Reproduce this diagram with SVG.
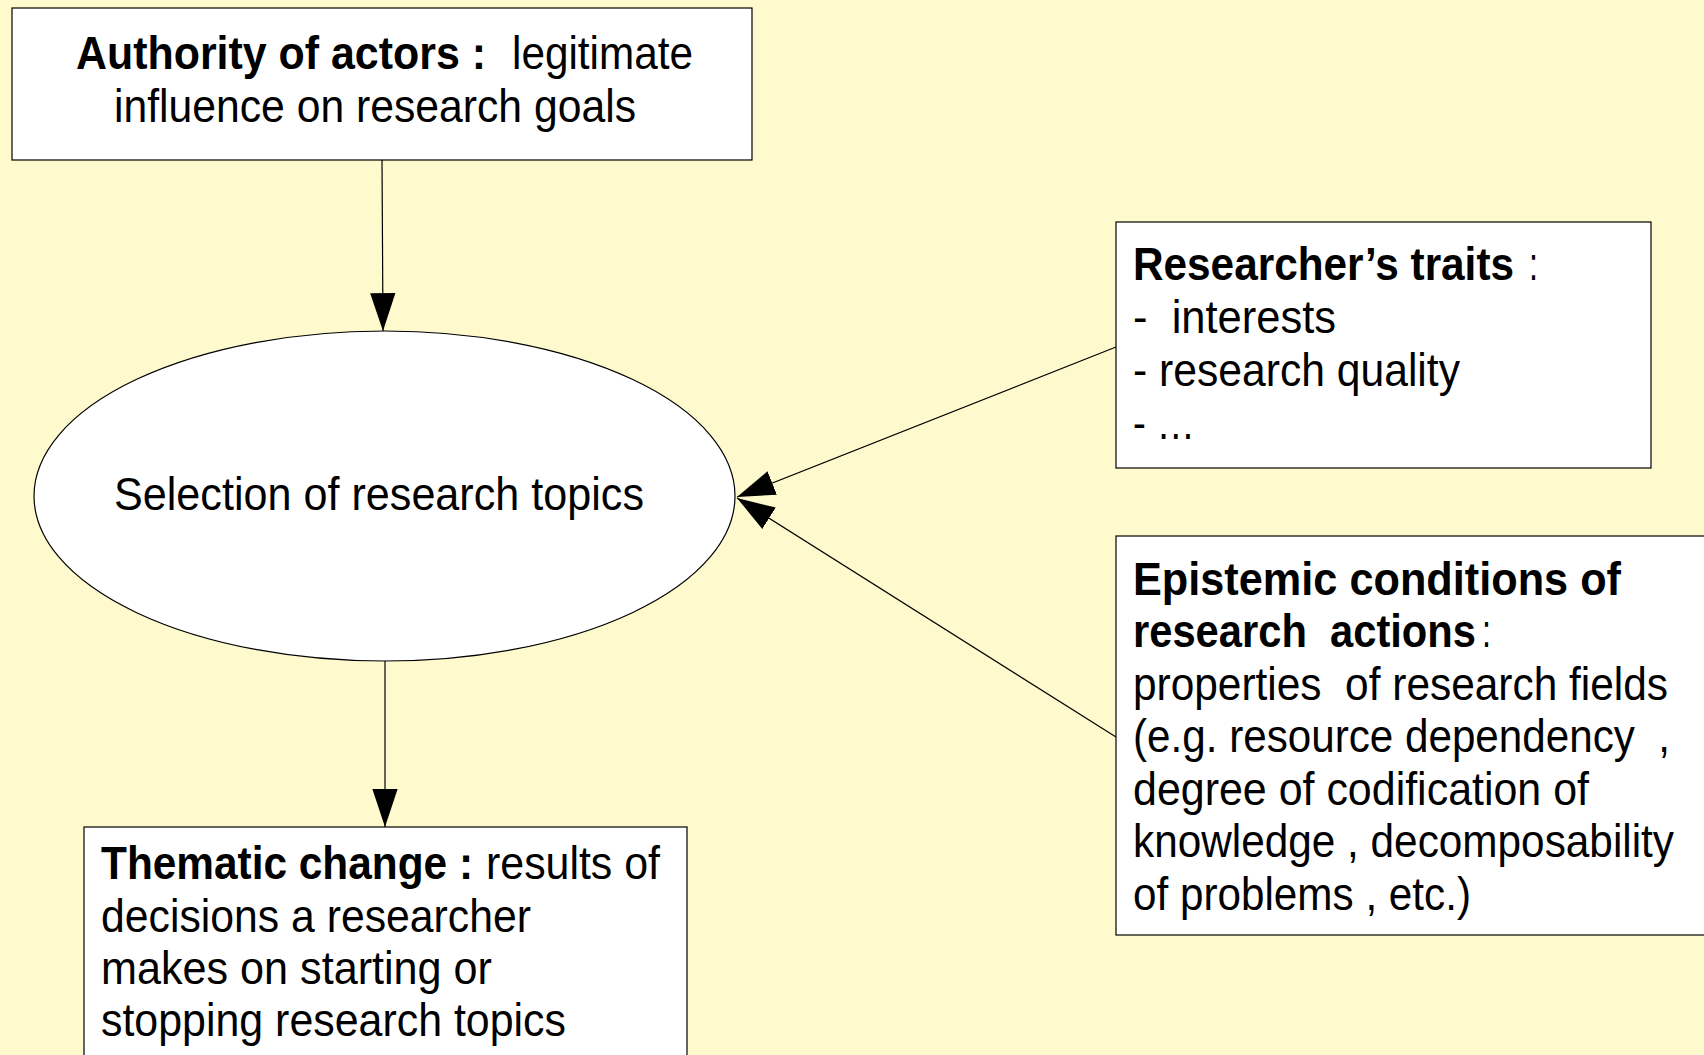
<svg xmlns="http://www.w3.org/2000/svg" width="1704" height="1055" viewBox="0 0 1704 1055">
<style>
.bg{fill:#FFFACD}
.box{fill:#FFFFFF;stroke:#000000;stroke-width:1.2}
.t{font-family:"Liberation Sans",Arial,sans-serif;font-size:46px;fill:#000000;white-space:pre}
.b{font-weight:bold}
.conn{stroke:#000000;stroke-width:1.2;fill:none}
</style>
<defs>
<marker id="arr" markerUnits="userSpaceOnUse" markerWidth="40" markerHeight="28" viewBox="0 -13 38 26" refX="36" refY="0" orient="auto">
<path d="M0,-12 L36,0 L0,12 z" fill="#000000"/>
</marker>
</defs>
<rect class="bg" x="0" y="0" width="1704" height="1055"/>

<g id="connectors">
<line class="conn" x1="382" y1="160" x2="383" y2="331" marker-end="url(#arr)"/>
<line class="conn" x1="385" y1="661" x2="385" y2="827" marker-end="url(#arr)"/>
<line class="conn" x1="1116" y1="347" x2="737" y2="497" marker-end="url(#arr)"/>
<line class="conn" x1="1116" y1="737" x2="737" y2="498" marker-end="url(#arr)"/>
</g>

<g id="authority">
<rect class="box" x="12" y="8" width="740" height="152"/>
<text class="t"><tspan class="b" x="76" y="69" textLength="410" lengthAdjust="spacingAndGlyphs">Authority of actors :</tspan><tspan x="512" y="69" textLength="181" lengthAdjust="spacingAndGlyphs">legitimate</tspan></text>
<text class="t" x="114" y="122" textLength="522" lengthAdjust="spacingAndGlyphs">influence on research goals</text>
</g>

<g id="selection">
<ellipse class="box" cx="384.5" cy="496" rx="350.5" ry="165"/>
<text class="t" x="114" y="510" textLength="530" lengthAdjust="spacingAndGlyphs">Selection of research topics</text>
</g>

<g id="traits">
<rect class="box" x="1116" y="222" width="535" height="246"/>
<text class="t"><tspan class="b" x="1133" y="280" textLength="381" lengthAdjust="spacingAndGlyphs">Researcher’s traits</tspan><tspan x="1529" y="280" textLength="9" lengthAdjust="spacingAndGlyphs">:</tspan></text>
<text class="t" x="1133" y="333" textLength="203" lengthAdjust="spacingAndGlyphs" xml:space="preserve">-  interests</text>
<text class="t" x="1133" y="386" textLength="327" lengthAdjust="spacingAndGlyphs">- research quality</text>
<text class="t" x="1133" y="439" textLength="62" lengthAdjust="spacingAndGlyphs">- …</text>
</g>

<g id="epistemic">
<rect class="box" x="1116" y="536" width="600" height="399"/>
<text class="t b" x="1133" y="595" textLength="488" lengthAdjust="spacingAndGlyphs">Epistemic conditions of</text>
<text class="t" xml:space="preserve"><tspan class="b" x="1133" y="647" textLength="343" lengthAdjust="spacingAndGlyphs">research  actions</tspan><tspan x="1482" y="647" textLength="9" lengthAdjust="spacingAndGlyphs">:</tspan></text>
<text class="t" x="1133" y="700" textLength="535" lengthAdjust="spacingAndGlyphs" xml:space="preserve">properties  of research fields</text>
<text class="t" x="1133" y="752" textLength="537" lengthAdjust="spacingAndGlyphs" xml:space="preserve">(e.g. resource dependency  ,</text>
<text class="t" x="1133" y="805" textLength="456" lengthAdjust="spacingAndGlyphs">degree of codification of</text>
<text class="t" x="1133" y="857" textLength="541" lengthAdjust="spacingAndGlyphs">knowledge , decomposability</text>
<text class="t" x="1133" y="910" textLength="338" lengthAdjust="spacingAndGlyphs">of problems , etc.)</text>
</g>

<g id="thematic">
<rect class="box" x="84" y="827" width="603" height="240"/>
<text class="t"><tspan class="b" x="101" y="879" textLength="372" lengthAdjust="spacingAndGlyphs">Thematic change :</tspan><tspan x="486" y="879" textLength="174" lengthAdjust="spacingAndGlyphs">results of</tspan></text>
<text class="t" x="101" y="932" textLength="430" lengthAdjust="spacingAndGlyphs">decisions a researcher</text>
<text class="t" x="101" y="984" textLength="391" lengthAdjust="spacingAndGlyphs">makes on starting or</text>
<text class="t" x="101" y="1036" textLength="465" lengthAdjust="spacingAndGlyphs">stopping research topics</text>
</g>
</svg>
